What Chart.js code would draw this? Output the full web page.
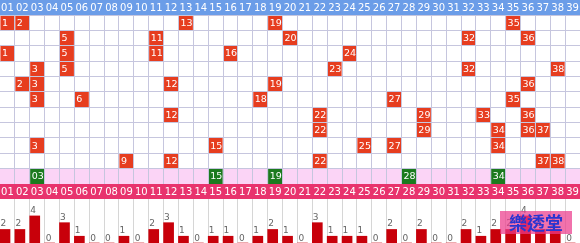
<!DOCTYPE html>
<html>
<head>
<meta charset="utf-8">
<script src="https://cdn.jsdelivr.net/npm/chart.js@4/dist/chart.umd.min.js"></script>
<style>
    body { margin: 0; background: #fff; overflow: hidden; }
    #wrap { position: relative; width: 580px; height: 243px; }
    #gridBox { position: absolute; left: 0; top: 0; width: 580px; height: 184px; }
    #barBox { position: absolute; left: 0; top: 184px; width: 580px; height: 59px; }
    #mark {
        position: absolute; left: 500px; top: 211px; width: 72px; height: 23px;
        background: rgba(236, 60, 140, 0.72); color: #2b35d0;
        font: bold 18px "Noto Sans CJK TC"; line-height: 23px; text-align: center;
    }
</style>
</head>
<body>
<div id="wrap">
    <div id="gridBox"><canvas id="gridChart"></canvas></div>
    <div id="barBox"><canvas id="countChart"></canvas></div>
    <div id="mark">樂透堂</div>
</div>
<script>
// 01..39 column labels
const numbers = ['01','02','03','04','05','06','07','08','09','10','11','12','13',
    '14','15','16','17','18','19','20','21','22','23','24','25','26',
    '27','28','29','30','31','32','33','34','35','36','37','38','39'];

// past draws, one row each (top to bottom)
const draws = [
    [1, 2, 13, 19, 35],
    [5, 11, 20, 32, 36],
    [1, 5, 11, 16, 24],
    [3, 5, 23, 32, 38],
    [2, 3, 12, 19, 36],
    [3, 6, 18, 27, 35],
    [12, 22, 29, 33, 36],
    [22, 29, 34, 36, 37],
    [3, 15, 25, 27, 34],
    [9, 12, 22, 37, 38]
];

// latest draw (green row)
const lastDraw = [3, 15, 19, 28, 34];

// how many times each number came out in the rows above
const counts = [2, 2, 4, 0, 3, 1, 0, 0, 1, 0, 2, 3, 1, 0, 1, 1, 0, 1, 2, 1,
    0, 3, 1, 1, 1, 0, 2, 0, 2, 0, 0, 2, 1, 2, 2, 4, 2, 2, 0];

const lineColor = '#c6c6de';

// pink band behind the latest draw row
const bandPlugin = {
    id: 'band',
    beforeDatasetsDraw(chart) {
        const { ctx, chartArea, scales } = chart;
        const top = scales.y.getPixelForValue(draws.length);
        const bottom = scales.y.getPixelForValue(draws.length + 1);
        ctx.save();
        ctx.fillStyle = '#fbd4f6';
        ctx.fillRect(chartArea.left, top, chartArea.width, bottom - top);
        ctx.restore();
    }
};

// number written inside each cell
const cellText = {
    id: 'cellText',
    afterDraw(chart) {
        const ctx = chart.ctx;
        ctx.save();
        ctx.font = '9.5px "DejaVu Sans"';
        ctx.fillStyle = '#fff';
        ctx.textBaseline = 'middle';
        ctx.textAlign = 'left';
        chart.data.datasets.forEach(function(ds, i) {
            chart.getDatasetMeta(i).data.forEach(function(bar, j) {
                const label = ds.data[j].x;
                const text = ds.padLabel ? label : String(Number(label));
                ctx.fillText(text, bar.x - bar.width / 2 + 1.5, (bar.y + bar.base) / 2 + 0.5);
            });
        });
        ctx.restore();
    }
};

new Chart(document.getElementById('gridChart'), {
    type: 'bar',
    data: {
        labels: numbers,
        datasets: [
            {
                data: draws.flatMap((row, r) => row.map(n => ({ x: numbers[n - 1], y: [r, r + 1] }))),
                backgroundColor: '#e63d1f',
                grouped: false,
                barPercentage: 0.94,
                categoryPercentage: 1
            },
            {
                data: lastDraw.map(n => ({ x: numbers[n - 1], y: [draws.length, draws.length + 1] })),
                backgroundColor: '#1b7a1e',
                grouped: false,
                barPercentage: 0.94,
                categoryPercentage: 1,
                padLabel: true
            }
        ]
    },
    options: {
        responsive: true,
        maintainAspectRatio: false,
        animation: false,
        layout: { padding: 0 },
        plugins: {
            legend: { display: false },
            tooltip: { enabled: false }
        },
        scales: {
            x: {
                position: 'top',
                offset: true,
                backgroundColor: '#6b9de8',
                border: { display: false },
                grid: { offset: true, color: lineColor, drawTicks: false, z: 1 },
                ticks: {
                    color: '#fff',
                    font: { family: 'DejaVu Sans', size: 10 },
                    padding: 1,
                    maxRotation: 0,
                    autoSkip: false,
                    z: 1
                },
                afterFit: function(scale) { scale.height = 15; }
            },
            y: {
                min: 0,
                max: draws.length + 1,
                reverse: true,
                border: { display: false },
                grid: { color: lineColor, drawTicks: false, z: 1 },
                ticks: { display: false, stepSize: 1 },
                afterFit: function(scale) { scale.width = 0; }
            }
        }
    },
    plugins: [bandPlugin, cellText]
});

// count written above each bar (or at the bottom for 0)
const countText = {
    id: 'countText',
    afterDatasetsDraw(chart) {
        const ctx = chart.ctx;
        ctx.save();
        ctx.font = '9px "DejaVu Sans"';
        ctx.fillStyle = '#666';
        ctx.textAlign = 'left';
        ctx.textBaseline = 'bottom';
        chart.getDatasetMeta(0).data.forEach(function(bar, i) {
            const left = bar.x - bar.width / 2;
            if (counts[i] > 0) {
                ctx.fillText(counts[i], left + 0.5, bar.y - 1);
            } else {
                ctx.fillText('0', left + 1, bar.base);
            }
        });
        ctx.restore();
    }
};

new Chart(document.getElementById('countChart'), {
    type: 'bar',
    data: {
        labels: numbers,
        datasets: [{
            data: counts.map((c, i) => ({ x: i + 1, y: c })),
            xAxisID: 'xb',
            backgroundColor: '#c8000a',
            barThickness: 10
        }]
    },
    options: {
        responsive: true,
        maintainAspectRatio: false,
        animation: false,
        layout: { padding: 0 },
        plugins: {
            legend: { display: false },
            tooltip: { enabled: false }
        },
        scales: {
            x: {
                position: 'top',
                offset: true,
                backgroundColor: '#e8336d',
                border: { display: false },
                grid: { offset: true, color: '#d6d6d6', drawTicks: false },
                ticks: {
                    color: '#fff',
                    font: { family: 'DejaVu Sans', size: 10 },
                    padding: 1,
                    maxRotation: 0,
                    autoSkip: false
                },
                afterFit: function(scale) { scale.height = 15; }
            },
            // hidden axis that puts each bar at the left side of its column
            xb: {
                type: 'linear',
                display: false,
                offset: false,
                min: 0.663,
                max: 39.663
            },
            y: {
                min: 0,
                max: 6.5,
                display: false
            }
        }
    },
    plugins: [countText]
});
</script>
</body>
</html>
